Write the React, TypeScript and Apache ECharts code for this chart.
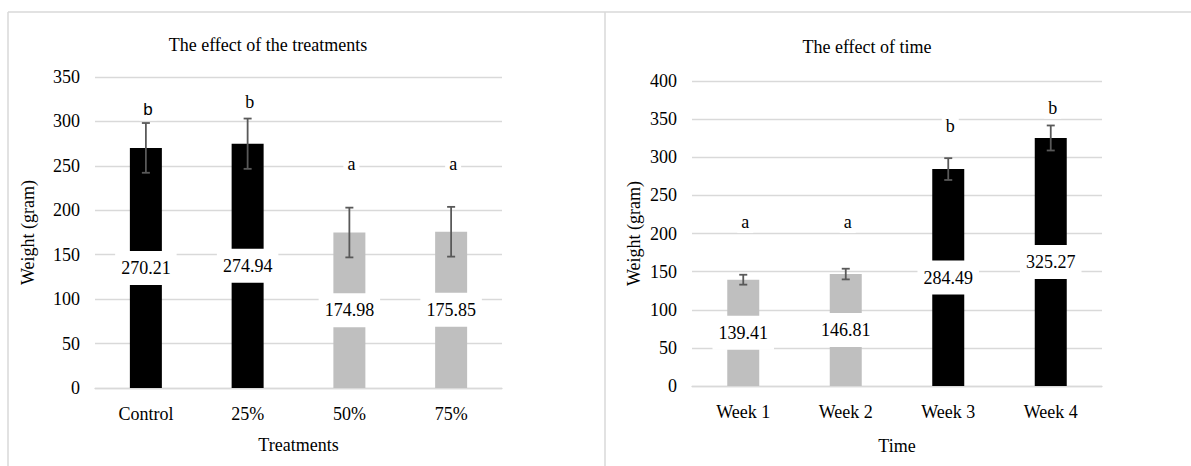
import React, { useEffect, useRef } from "react";
import * as echarts from "echarts";

// ---- Data ----
const treatmentCategories = ["Control", "25%", "50%", "75%"];
const treatmentMeans = [270.21, 274.94, 174.98, 175.85];
const treatmentErrors = [28, 28.3, 28, 28];
const treatmentLetters = ["b", "b", "a", "a"];
const treatmentLetterLevels = [313, 322, 252, 252];
const treatmentAxisMax = 350;

const timeCategories = ["Week 1", "Week 2", "Week 3", "Week 4"];
const timeMeans = [139.41, 146.81, 284.49, 325.27];
const timeErrors = [6.5, 7, 14.3, 16.4];
const timeLetters = ["a", "a", "b", "b"];
const timeLetterLevels = [215, 215, 341, 365];
const timeAxisMax = 400;

const axisStep = 50;

const SERIF = "'Liberation Serif', 'Times New Roman', serif";
const SANS = "'Liberation Sans', Arial, sans-serif";
const BLACK = "#000000";
const GRAY = "#bfbfbf";
const GRID = "#d9d9d9";
const ERR = "#595959";

function barSeries(means: number[], letters: string[], idx: number) {
  return {
    type: "bar",
    xAxisIndex: idx,
    yAxisIndex: idx,
    barWidth: 32,
    z: 2,
    data: means.map((v, i) => ({
      value: v,
      itemStyle: { color: letters[i] === "b" ? BLACK : GRAY },
    })),
    label: {
      show: true,
      position: "inside",
      formatter: "{c}",
      fontFamily: SERIF,
      fontSize: 18,
      color: "#000",
      backgroundColor: "#fff",
      padding: [8, 6],
    },
  };
}

function errorSeries(means: number[], errs: number[], idx: number) {
  return {
    type: "custom",
    xAxisIndex: idx,
    yAxisIndex: idx,
    z: 10,
    encode: { x: 0, y: [1, 2] },
    data: means.map((m, i) => [i, m - errs[i], m + errs[i]]),
    renderItem: (params: any, api: any) => {
      const x = api.value(0);
      const lo = api.coord([x, api.value(1)]);
      const hi = api.coord([x, api.value(2)]);
      const cap = 4;
      const st = { stroke: ERR, lineWidth: 1.8 };
      return {
        type: "group",
        children: [
          { type: "line", shape: { x1: lo[0], y1: lo[1], x2: hi[0], y2: hi[1] }, style: st },
          { type: "line", shape: { x1: lo[0] - cap, y1: lo[1], x2: lo[0] + cap, y2: lo[1] }, style: st },
          { type: "line", shape: { x1: hi[0] - cap, y1: hi[1], x2: hi[0] + cap, y2: hi[1] }, style: st },
        ],
      };
    },
  };
}

function letterSeries(letters: string[], levels: number[], idx: number) {
  return {
    type: "custom",
    xAxisIndex: idx,
    yAxisIndex: idx,
    z: 11,
    encode: { x: 0, y: 1 },
    data: levels.map((l, i) => [i, l]),
    renderItem: (params: any, api: any) => {
      const i = params.dataIndex;
      const p = api.coord([api.value(0), api.value(1)]);
      const sans = idx === 0 && i === 0;
      return {
        type: "text",
        x: p[0] + 2,
        y: p[1],
        style: {
          text: letters[i],
          align: "center",
          verticalAlign: "middle",
          fontFamily: sans ? SANS : SERIF,
          fontSize: sans ? 17 : 18,
          fill: "#000",
          backgroundColor: "#fff",
          padding: [2, 4],
        },
      };
    },
  };
}

function xAxis(cats: string[], idx: number, name: string, nameGap: number) {
  return {
    type: "category",
    gridIndex: idx,
    data: cats,
    name,
    nameLocation: "middle",
    nameGap,
    nameTextStyle: { fontFamily: SERIF, fontSize: 18, color: "#000" },
    axisLine: { show: true, lineStyle: { color: GRID, width: 1.3 } },
    axisTick: { show: false },
    axisLabel: { fontFamily: SERIF, fontSize: 18, color: "#000", margin: 17 },
  };
}

function yAxis(idx: number, max: number, nameGap: number) {
  return {
    type: "value",
    gridIndex: idx,
    min: 0,
    max,
    interval: axisStep,
    name: "Weight (gram)",
    nameLocation: "middle",
    nameGap,
    nameTextStyle: { fontFamily: SERIF, fontSize: 18, color: "#000" },
    axisLine: { show: false },
    axisTick: { show: false },
    axisLabel: { fontFamily: SERIF, fontSize: 18, color: "#000", margin: 15 },
    splitLine: { show: true, lineStyle: { color: GRID, width: 1.3 } },
  };
}

export default function App() {
  const ref = useRef<HTMLDivElement>(null);
  useEffect(() => {
    if (!ref.current) return;
    const chart = echarts.init(ref.current, null, { renderer: "svg" });
    chart.setOption({
      animation: false,
      backgroundColor: "#fff",
      grid: [
        { left: 95, right: 1191 - 502, top: 77, bottom: 466 - 388 },
        { left: 692, right: 1191 - 1102, top: 81, bottom: 466 - 386 },
      ],
      xAxis: [
        xAxis(treatmentCategories, 0, "Treatments", 48),
        xAxis(timeCategories, 1, "Time", 51),
      ],
      yAxis: [yAxis(0, treatmentAxisMax, 58), yAxis(1, timeAxisMax, 49)],
      graphic: [
        { type: "line", shape: { x1: 8, y1: 12, x2: 1191, y2: 12 }, style: { stroke: GRID, lineWidth: 1.5 } },
        { type: "line", shape: { x1: 8, y1: 12, x2: 8, y2: 466 }, style: { stroke: GRID, lineWidth: 1.5 } },
        { type: "line", shape: { x1: 605, y1: 12, x2: 605, y2: 466 }, style: { stroke: GRID, lineWidth: 1.5 } },
        {
          type: "text",
          x: 268,
          y: 45,
          style: { text: "The effect of the treatments", align: "center", verticalAlign: "middle", fontFamily: SERIF, fontSize: 18, fill: "#000" },
        },
        {
          type: "text",
          x: 867,
          y: 47,
          style: { text: "The effect of time", align: "center", verticalAlign: "middle", fontFamily: SERIF, fontSize: 18, fill: "#000" },
        },
      ],
      series: [
        barSeries(treatmentMeans, treatmentLetters, 0),
        errorSeries(treatmentMeans, treatmentErrors, 0),
        letterSeries(treatmentLetters, treatmentLetterLevels, 0),
        barSeries(timeMeans, timeLetters, 1),
        errorSeries(timeMeans, timeErrors, 1),
        letterSeries(timeLetters, timeLetterLevels, 1),
      ],
    });
    return () => chart.dispose();
  }, []);
  return (
    <div
      ref={ref}
      style={{ position: "fixed", left: 0, top: 0, width: 1191, height: 466, background: "#fff" }}
    />
  );
}
